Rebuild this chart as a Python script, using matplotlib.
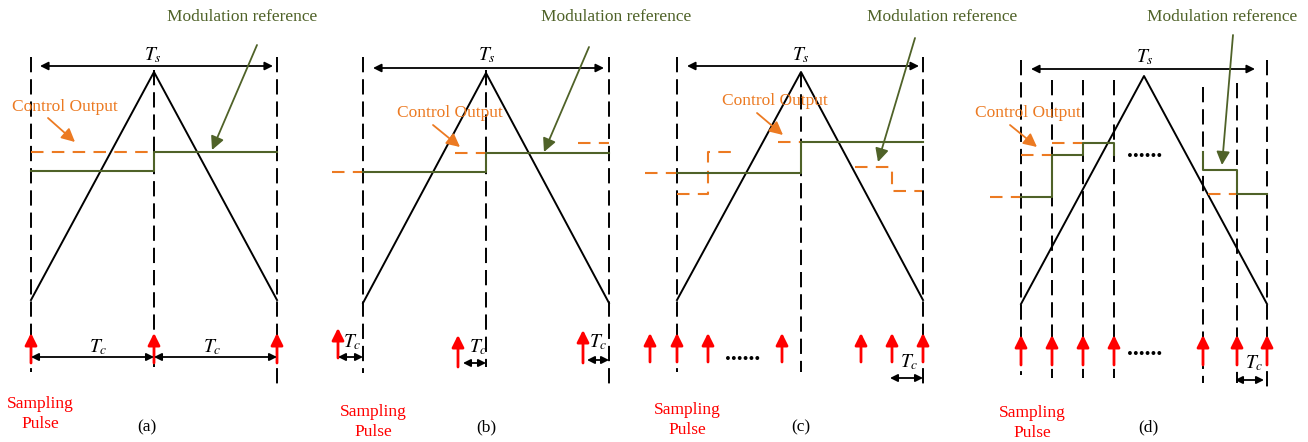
import matplotlib.pyplot as plt

plt.rcParams['font.family'] = ['Liberation Serif', 'DejaVu Serif']
plt.rcParams['mathtext.fontset'] = 'stix'
plt.rcParams['lines.scale_dashes'] = False

ORANGE = '#EC7A22'
GREEN = '#4F6228'
RED = '#FF0000'
FS = 12.5

# ---- panel data (pixel coordinates of the sketch) ----
# dashed sampling instants: (x, y_top, y_bottom)
vlines_a = [(31, 57, 372), (154, 70, 367), (277, 57, 387)]
vlines_b = [(363, 57, 373), (486, 70, 367), (609, 57, 388)]
vlines_c = [(677, 57, 372), (801, 72, 372), (923, 57, 387)]
vlines_d = [(1021, 60, 375), (1052, 80, 378), (1083, 80, 378), (1114, 80, 378),
            (1203, 87, 383), (1237, 83, 383), (1267, 60, 390)]

# triangular carrier
tri_a = ([31, 154, 277], [300, 72, 300])
tri_b = ([363, 486, 609], [303, 73, 303])
tri_c = ([677, 801, 923], [300, 72, 300])
tri_d = ([1021, 1144, 1267], [304, 76, 304])

# Ts arrow: (x0, x1, y, label_x, label_y)
ts_a = (40, 273, 66, 153, 55)
ts_b = (373, 604, 68, 487, 55)
ts_c = (687, 919, 66, 801, 55)
ts_d = (1031, 1255, 69, 1145, 57)

# control output (orange dashed) polylines
orange_a = [([31, 154], [152, 152])]
orange_b = [([332, 363], [172, 172]), ([455, 486], [153, 153]), ([578, 609], [143, 143])]
orange_c = [([645, 677], [173, 173]), ([677, 708, 708, 738], [194, 194, 152, 152]),
            ([778, 801], [142, 142]), ([855, 892, 892, 922], [167, 167, 191, 191])]
orange_d = [([990, 1021], [197, 197]), ([1021, 1052], [155, 155]),
            ([1052, 1083], [143, 143]), ([1208, 1237], [194, 194])]

# modulation reference (green) polylines
green_a = [([31, 154, 154, 277], [171, 171, 152, 152])]
green_b = [([363, 486, 486, 609], [172, 172, 153, 153])]
green_c = [([677, 801, 801, 923], [173, 173, 142, 142])]
green_d = [([1021, 1052, 1052, 1083, 1083, 1114, 1114], [197, 197, 155, 155, 143, 143, 155]),
           ([1203, 1203, 1237, 1237, 1267], [152, 170, 170, 194, 194])]

# annotation arrows: (text_x, text_y, tail_x, tail_y, head_x, head_y)
mod_a = (242, 17, 257, 45, 212, 150)
mod_b = (616, 17, 589, 47, 544, 152)
mod_c = (942, 17, 915, 38, 878, 162)
mod_d = (1222, 17, 1233, 35, 1222, 165)
ctl_a = (65, 107, 48, 118, 75, 142)
ctl_b = (450, 113, 433, 125, 460, 147)
ctl_c = (775, 101, 757, 113, 783, 135)
ctl_d = (1028, 113, 1010, 125, 1037, 147)

# sampling pulses: x positions, bottom y, top y
pulse_a = ([31, 154, 277], 363, 333)
pulse_b = ([338, 458, 583], [358, 367, 363], [328, 335, 330])
pulse_c = ([650, 677, 708, 782, 861, 892, 923], 362, 333)
pulse_d = ([1021, 1052, 1083, 1114, 1203, 1237, 1267], 365, 335)

# Tc arrows: (x0, x1, y, label_x, label_y)
tc_a = [(31, 154, 357, 98, 347), (154, 277, 357, 212, 347)]
tc_b = [(338, 363, 357, 352, 342), (463, 486, 363, 478, 347), (587, 609, 360, 598, 342)]
tc_c = [(890, 923, 378, 909, 362)]
tc_d = [(1235, 1264, 380, 1254, 363)]

dots_c = [(743, 360)]
dots_d = [(1145, 157), (1145, 355)]

sp_pos = [(40, 414), (373, 422), (687, 420), (1032, 423)]
sub_pos = [(147, 427), (486, 427), (801, 427), (1148, 427)]
sub_labels = ['(a)', '(b)', '(c)', '(d)']

panels = [
    (vlines_a, tri_a, ts_a, orange_a, green_a, mod_a, ctl_a, pulse_a, tc_a, []),
    (vlines_b, tri_b, ts_b, orange_b, green_b, mod_b, ctl_b, pulse_b, tc_b, []),
    (vlines_c, tri_c, ts_c, orange_c, green_c, mod_c, ctl_c, pulse_c, tc_c, dots_c),
    (vlines_d, tri_d, ts_d, orange_d, green_d, mod_d, ctl_d, pulse_d, tc_d, dots_d),
]

fig = plt.figure(figsize=(13.08, 4.42), dpi=100)
ax = fig.add_axes([0, 0, 1, 1])
ax.set_xlim(0, 1308)
ax.set_ylim(442, 0)
ax.axis('off')


def arrow(x0, y0, x1, y1, color, style='-|>', lw=1.2, ms=12):
    ax.annotate('', xy=(x1, y1), xytext=(x0, y0),
                arrowprops=dict(arrowstyle=style, color=color, lw=lw,
                                mutation_scale=ms, shrinkA=0, shrinkB=0))


for (vl, tri, ts, org, grn, mod, ctl, pul, tcs, dots) in panels:
    for x, y0, y1 in vl:
        ax.plot([x, x], [y0, y1], color='black', lw=1.4, dashes=(11, 5))
    ax.plot(tri[0], tri[1], color='black', lw=1.4)
    for xs, ys in org:
        ax.plot(xs, ys, color=ORANGE, lw=1.5, dashes=(9, 6))
    for xs, ys in grn:
        ax.plot(xs, ys, color=GREEN, lw=1.5)
    # Ts
    arrow(ts[0], ts[2], ts[1], ts[2], 'black', style='<|-|>', lw=1.3, ms=12)
    ax.text(ts[3], ts[4], r'$T_s$', fontsize=14, ha='center', va='center')
    # Modulation reference
    ax.text(mod[0], mod[1], 'Modulation reference', color=GREEN, fontsize=FS,
            ha='center', va='center')
    arrow(mod[2], mod[3], mod[4], mod[5], GREEN, lw=1.3, ms=20)
    # Control output
    ax.text(ctl[0], ctl[1], 'Control Output', color=ORANGE, fontsize=FS,
            ha='center', va='center')
    arrow(ctl[2], ctl[3], ctl[4], ctl[5], ORANGE, lw=1.3, ms=20)
    # sampling pulses
    xs, yb, yt = pul
    for i, x in enumerate(xs):
        b = yb[i] if isinstance(yb, list) else yb
        t = yt[i] if isinstance(yt, list) else yt
        arrow(x, b, x, t, RED, lw=2.0, ms=18)
    # Tc
    for x0, x1, y, lx, ly in tcs:
        arrow(x0, y, x1, y, 'black', style='<|-|>', lw=1.3, ms=11)
        ax.text(lx, ly, r'$T_c$', fontsize=14, ha='center', va='center')
    for x, y in dots:
        ax.text(x, y, '......', fontsize=17, ha='center', va='baseline',
                fontweight='bold')

for (x, y) in sp_pos:
    ax.text(x, y, 'Sampling\nPulse', color=RED, fontsize=FS, ha='center',
            va='center', linespacing=1.3)
for (x, y), lab in zip(sub_pos, sub_labels):
    ax.text(x, y, lab, fontsize=FS, ha='center', va='center')

fig.savefig('out.png', dpi=100)
